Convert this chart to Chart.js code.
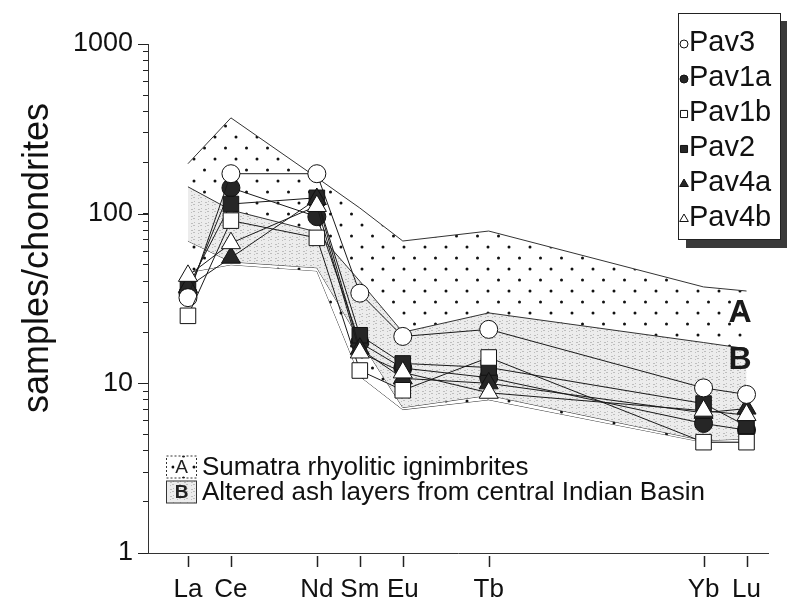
<!DOCTYPE html>
<html>
<head>
<meta charset="utf-8">
<script src="https://cdn.jsdelivr.net/npm/chart.js@4"></script>
<style>
  html, body { margin: 0; padding: 0; background: #fff; }
  canvas { display: block; }
</style>
</head>
<body>
<canvas id="reeChart" width="787" height="606"></canvas>
<script>
// rare earth elements, x position = place in the REE row (Pm skipped)
const elements = ['La', 'Ce', 'Nd', 'Sm', 'Eu', 'Tb', 'Yb', 'Lu'];
const elementPos = [0, 1, 3, 4, 5, 7, 12, 13];
const yTickLabels = [1, 10, 100, 1000];

const sampleNames = ['Pav3', 'Pav1a', 'Pav1b', 'Pav2', 'Pav4a', 'Pav4b'];
const pav3  = [32, 172, 172, 34, 18.9, 20.8, 9.4, 8.6];
const pav1a = [34, 142, 96, 17.4, 12.3, 10.8, 5.8, 5.3];
const pav1b = [25, 91, 72, 11.9, 9.1, 14.2, 4.5, 4.5];
const pav2  = [37, 114, 124, 19.2, 13.1, 12.4, 7.6, 5.6];
const pav4a = [37, 55, 122, 16, 10.7, 10, 6.7, 7.1];
const pav4b = [43, 67, 111, 15.2, 11.6, 8.8, 6.9, 6.5];

// A: Sumatra rhyolitic ignimbrites, B: altered ash layers (envelopes)
const bandATop    = [197, 367, 163, 108, 69, 79, 37, 35];
const bandABottom = [45, 50, 46, 11, 7, 8, 4.5, 4.5];
const bandBTop    = [144, 105, 78, 40, 20, 26, 17.4, 16];
const bandBBottom = [69, 52, 48, 18, 7.2, 8.5, 4.6, 4.7];

const bandLabels = ['Sumatra rhyolitic ignimbrites', 'Altered ash layers from central Indian Basin'];

const FONT = "'Liberation Sans', Arial, sans-serif";

function toPoints(values) {
    return elementPos.map((p, i) => ({ x: p, y: values[i] }));
}

// dotted fill for band A
function dotPattern() {
    const c = document.createElement('canvas');
    c.width = 21; c.height = 22;
    const g = c.getContext('2d');
    g.fillStyle = '#fff';
    g.fillRect(0, 0, 21, 22);
    g.fillStyle = '#111';
    [[5, 5], [15.5, 16]].forEach(([px, py]) => {
        g.beginPath();
        g.arc(px, py, 1.5, 0, Math.PI * 2);
        g.fill();
    });
    return g.createPattern(c, 'repeat');
}

// fine grey stipple for band B (no visible diagonals)
function greyPattern() {
    const c = document.createElement('canvas');
    c.width = 7; c.height = 7;
    const g = c.getContext('2d');
    g.fillStyle = '#ececec';
    g.fillRect(0, 0, 7, 7);
    g.fillStyle = '#bdbdbd';
    for (let i = 0; i < 7; i++) {
        for (let j = 0; j < 7; j++) {
            if ((3 * i * i + 5 * j * j + i * j) % 7 === 1) g.fillRect(i, j, 1, 1);
        }
    }
    return g.createPattern(c, 'repeat');
}

const dots = dotPattern();
const grey = greyPattern();

function bandSet(label, values, fillTarget, bg, order) {
    return {
        label: label,
        data: toPoints(values),
        borderColor: '#333',
        borderWidth: 1,
        pointRadius: 0,
        fill: fillTarget === null ? false : { target: fillTarget },
        backgroundColor: bg,
        order: order
    };
}

function sampleSet(label, values, style, filled, radius, order) {
    return {
        label: label,
        data: toPoints(values),
        borderColor: '#1a1a1a',
        borderWidth: 1,
        pointStyle: style,
        pointRadius: radius,
        pointBorderWidth: 1,
        pointBorderColor: '#111',
        pointBackgroundColor: filled ? '#262626' : '#fff',
        fill: false,
        order: order
    };
}

const datasets = [
    bandSet('A top', bandATop, 1, dots, 20),
    bandSet('A bottom', bandABottom, null, dots, 20),
    bandSet('B top', bandBTop, 3, grey, 15),
    bandSet('B bottom', bandBBottom, null, grey, 15),
    sampleSet('Pav3', pav3, 'circle', false, 9, 2),
    sampleSet('Pav1a', pav1a, 'circle', true, 9, 5),
    sampleSet('Pav1b', pav1b, 'rect', false, 11, 1),
    sampleSet('Pav2', pav2, 'rect', true, 11, 4),
    sampleSet('Pav4a', pav4a, 'triangle', true, 11, 3),
    sampleSet('Pav4b', pav4b, 'triangle', false, 11, 0)
];

// titles, legends and the extra tick marks
const decorPlugin = {
    id: 'decor',
    afterDraw(chart) {
        const ctx = chart.ctx;
        const xs = chart.scales.x;
        const ys = chart.scales.y;
        const area = chart.chartArea;
        ctx.save();

        // x tick marks, detached a little from the axis
        ctx.strokeStyle = '#222';
        ctx.lineWidth = 1.5;
        elementPos.forEach(p => {
            const px = Math.round(xs.getPixelForValue(p)) + 0.5;
            ctx.beginPath();
            ctx.moveTo(px, area.bottom + 3);
            ctx.lineTo(px, area.bottom + 14);
            ctx.stroke();
        });

        // longer ticks at decades
        ctx.lineWidth = 1;
        yTickLabels.forEach(v => {
            const py = Math.round(ys.getPixelForValue(v)) + 0.5;
            ctx.beginPath();
            ctx.moveTo(area.left - 10, py);
            ctx.lineTo(area.left, py);
            ctx.stroke();
        });

        // y axis title
        ctx.fillStyle = '#111';
        ctx.font = '36px ' + FONT;
        ctx.textAlign = 'center';
        ctx.textBaseline = 'middle';
        ctx.translate(38, 258);
        ctx.rotate(-Math.PI / 2);
        ctx.fillText('samples/chondrites', 0, 0);
        ctx.setTransform(1, 0, 0, 1, 0, 0);

        // band letters
        ctx.font = 'bold 32px ' + FONT;
        ctx.fillStyle = '#1a1a1a';
        ctx.fillText('A', 740, 313);
        ctx.fillText('B', 740, 360);

        // sample legend box with shadow
        ctx.fillStyle = '#3a3a3a';
        ctx.fillRect(686, 21, 101, 227);
        ctx.fillStyle = '#fff';
        ctx.fillRect(678.5, 13.5, 102, 226);
        ctx.strokeStyle = '#222';
        ctx.strokeRect(678.5, 13.5, 102, 226);
        ctx.font = '29px ' + FONT;
        ctx.textAlign = 'left';
        sampleNames.forEach((name, i) => {
            const ds = chart.data.datasets[4 + i];
            const cy = 43 + 35 * i;
            ctx.fillStyle = ds.pointBackgroundColor;
            ctx.strokeStyle = '#111';
            Chart.helpers.drawPoint(ctx, {
                pointStyle: ds.pointStyle,
                radius: ds.pointStyle === 'circle' ? 4 : 5,
                borderWidth: 1,
                rotation: 0
            }, 684, cy + 1);
            ctx.fillStyle = '#111';
            ctx.fillText(name, 689, cy);
        });

        // band legend (bottom left)
        const boxX = 166.5;
        const rows = [467, 492];
        // A swatch
        ctx.fillStyle = dots;
        ctx.fillRect(boxX, rows[0] - 11, 30, 22);
        ctx.setLineDash([2, 2]);
        ctx.strokeStyle = '#333';
        ctx.strokeRect(boxX, rows[0] - 11, 30, 22);
        ctx.setLineDash([]);
        ctx.fillStyle = '#fff';
        ctx.fillRect(boxX + 8, rows[0] - 8, 14, 17);
        ctx.fillStyle = '#222';
        ctx.font = '19px ' + FONT;
        ctx.textAlign = 'center';
        ctx.fillText('A', boxX + 15, rows[0] + 1);
        // B swatch
        ctx.fillStyle = grey;
        ctx.fillRect(boxX, rows[1] - 11, 30, 22);
        ctx.strokeRect(boxX, rows[1] - 11, 30, 22);
        ctx.fillStyle = '#222';
        ctx.font = 'bold 19px ' + FONT;
        ctx.fillText('B', boxX + 15, rows[1] + 1);

        ctx.font = '26px ' + FONT;
        ctx.textAlign = 'left';
        ctx.fillStyle = '#111';
        bandLabels.forEach((t, i) => ctx.fillText(t, 202, rows[i] + 1));

        ctx.restore();
    }
};

new Chart(document.getElementById('reeChart'), {
    type: 'line',
    data: { datasets: datasets },
    options: {
        responsive: false,
        animation: false,
        parsing: true,
        layout: { padding: { left: 0, top: 44, right: 19, bottom: 0 } },
        elements: { line: { tension: 0 } },
        plugins: {
            legend: { display: false },
            tooltip: { enabled: false },
            filler: { propagate: false }
        },
        scales: {
            x: {
                type: 'linear',
                min: -0.93,
                max: 13.5,
                afterBuildTicks: s => { s.ticks = elementPos.map(v => ({ value: v })); },
                afterFit: s => { s.height = 53; },
                ticks: {
                    autoSkip: false,
                    maxRotation: 0,
                    padding: 21,
                    color: '#111',
                    font: { family: FONT, size: 26 },
                    callback: v => elements[elementPos.indexOf(v)] || ''
                },
                grid: { display: false, drawTicks: false },
                border: { display: true, color: '#333', width: 1 }
            },
            y: {
                type: 'logarithmic',
                min: 1,
                max: 1000,
                afterBuildTicks: s => {
                    const t = [];
                    for (let d = 0; d < yTickLabels.length - 1; d++) {
                        for (let k = 1; k < 10; k++) t.push({ value: yTickLabels[d] * k });
                    }
                    t.push({ value: yTickLabels[yTickLabels.length - 1] });
                    s.ticks = t;
                },
                afterFit: s => { s.width = 148; },
                ticks: {
                    autoSkip: false,
                    padding: 10,
                    color: '#111',
                    font: { family: FONT, size: 27 },
                    callback: v => yTickLabels.includes(v) ? String(v) : ''
                },
                grid: {
                    drawOnChartArea: false,
                    drawTicks: true,
                    tickLength: 5,
                    color: '#222'
                },
                border: { display: true, color: '#333', width: 1 }
            }
        }
    },
    plugins: [decorPlugin]
});
</script>
</body>
</html>
